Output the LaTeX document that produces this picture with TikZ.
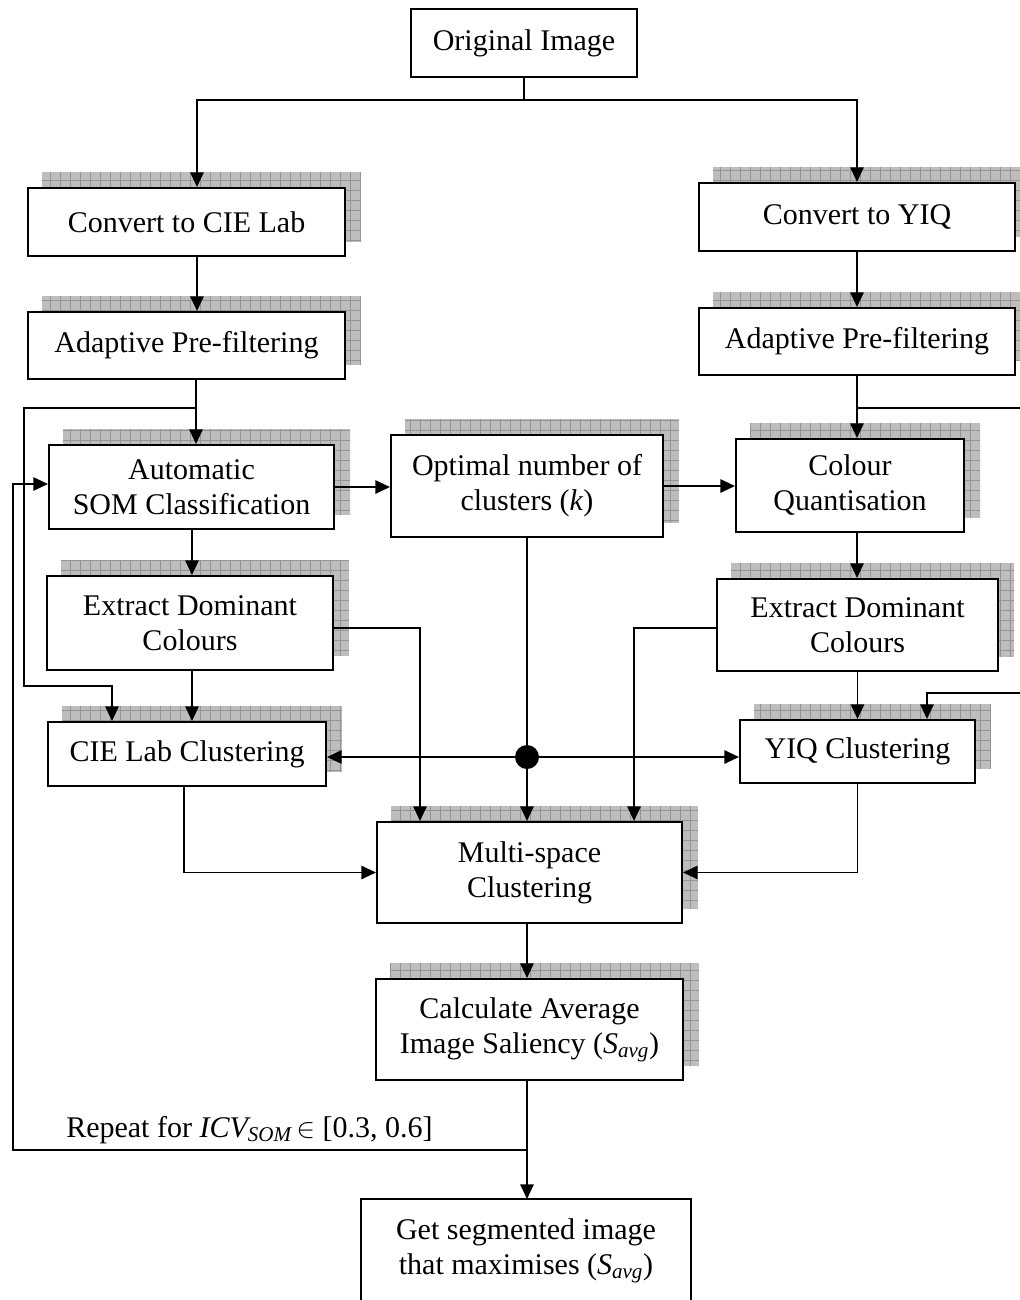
\documentclass[tikz,border=0pt]{standalone}
\usepackage{fontspec}
\setmainfont{Liberation Serif}
\usetikzlibrary{arrows.meta,backgrounds}
\newcommand\boxshadow[1]{%
  \begin{scope}
    \clip ([shift={(15,-15)}]#1.south west) rectangle ([shift={(15,-15)}]#1.north east);
    \fill[shfill] ([shift={(15,-15)}]#1.south west) rectangle ([shift={(15,-15)}]#1.north east);
    \draw[shgrid, step=7.5pt] ([shift={(15,-15)}]#1.south west) grid ([shift={(15,-15)}]#1.north east);
  \end{scope}}
\begin{document}
\begin{tikzpicture}[x=0.75pt,y=-0.75pt,
  box/.style={draw, line width=1.5pt, fill=white, inner sep=0pt, align=center,
    font=\fontsize{22.5}{26.25}\selectfont},
  frame/.style={line width=1.5pt},
  conn/.style={line width=1.4pt},
  arr/.style={conn, -{Triangle[length=11pt,width=10pt]}},
  shfill/.style={fill=black!26},
  shgrid/.style={draw=black!42, line width=0.5pt},
  lbl/.style={inner sep=0pt, font=\fontsize{22.5}{26.25}\selectfont}
]
\useasboundingbox (0,0) rectangle (1020,1300);

% boxes
\node[box, minimum width=169.5pt, minimum height=51pt] (orig) at (524,43) {Original Image};
\node[box, minimum width=237.75pt, minimum height=51pt] (cielab) at (186.5,222) {Convert to CIE Lab};
\node[box, minimum width=237pt, minimum height=51pt] (yiq) at (857,217) {Convert to YIQ};
\node[box, minimum width=237.75pt, minimum height=50.25pt] (apfL) at (186.5,345.5) {Adaptive Pre-filtering};
\node[box, minimum width=237pt, minimum height=50.25pt] (apfR) at (857,341.5) {Adaptive Pre-filtering};
\node[box, minimum width=213.75pt, minimum height=63pt] (som) at (191.5,487) {Automatic\\SOM Classification};
\node[box, minimum width=204pt, minimum height=76.5pt] (opt) at (527,486) {Optimal number of\\clusters (\textit{k})};
\node[box, minimum width=171pt, minimum height=69.75pt] (cq) at (850,485.5) {Colour\\Quantisation};
\node[box, minimum width=214.5pt, minimum height=70.5pt] (edL) at (190,623) {Extract Dominant\\Colours};
\node[box, minimum width=210.75pt, minimum height=69pt] (edR) at (857.5,625) {Extract Dominant\\Colours};
\node[box, minimum width=208.5pt, minimum height=48pt] (labc) at (187,754) {CIE Lab Clustering};
\node[box, minimum width=176.25pt, minimum height=47.25pt] (yiqc) at (857.5,751.5) {YIQ Clustering};
\node[box, minimum width=228.75pt, minimum height=75.75pt] (multi) at (529.5,872.5) {Multi-space\\Clustering};
\node[box, minimum width=230.25pt, minimum height=75.75pt] (calc) at (529.5,1029.5) {Calculate Average\\Image Saliency (\textit{S\textsubscript{avg}})};
\node[box, draw=none, fill=none, minimum width=246pt, minimum height=75.75pt] (final) at (526,1250.5) {Get segmented image\\that maximises (\textit{S\textsubscript{avg}})};
\draw[frame] ([yshift=-40pt]final.south west) -- (final.north west) -- (final.north east) -- ([yshift=-40pt]final.south east);

\node[circle, fill, inner sep=0pt, minimum size=18pt] (dot) at (527,757) {};

\node[lbl, anchor=base west] (rep) at (66,1137) {Repeat for \textit{ICV\textsubscript{SOM}}\,$\in$ [0.3, 0.6]};

% shadows
\begin{scope}[on background layer]
  \boxshadow{cielab}\boxshadow{yiq}\boxshadow{apfL}\boxshadow{apfR}
  \boxshadow{som}\boxshadow{opt}\boxshadow{cq}\boxshadow{edL}\boxshadow{edR}
  \boxshadow{labc}\boxshadow{yiqc}\boxshadow{multi}\boxshadow{calc}
\end{scope}

% helper coordinates
\coordinate (sp) at (524,100);
\coordinate (xa) at (197,0);
\coordinate (jl) at (196,408);
\coordinate (xb) at (112,0);
\coordinate (xc) at (192,0);
\coordinate (xd) at (420,0);
\coordinate (xe) at (634,0);
\coordinate (xf) at (184,0);
\coordinate (yE) at (0,628);
\coordinate (jr) at (857,408);
\coordinate (offA) at (1030,408);
\coordinate (offB) at (1030,693);
\coordinate (xg) at (927,0);
\coordinate (xm) at (527,0);
\coordinate (jb) at (527,1150);
\coordinate (xs) at (13,0);
\coordinate (yS) at (0,484);

% connectors
\draw[conn] (orig.south) -- (sp);
\draw[arr] (sp) -| (xa |- cielab.north);
\draw[arr] (sp) -| (yiq.north);
\draw[arr] (xa |- cielab.south) -- (xa |- apfL.north);
\draw[arr] (yiq.south) -- (apfR.north);

\draw[arr] (jl |- apfL.south) -- (jl |- som.north);
\draw[arr] (jl) -| (24,686) -| (xb |- labc.north);
\draw[arr] (xc |- som.south) -- (xc |- edL.north);
\draw[arr] (xc |- edL.south) -- (xc |- labc.north);

\draw[arr] (som.east) -- (som.east -| opt.west);
\draw[arr] (opt.east) -- (opt.east -| cq.west);

\draw[conn] (opt.south) -- (dot);
\draw[arr] (dot) -- (dot -| labc.east);
\draw[arr] (dot) -- (dot -| yiqc.west);
\draw[arr] (dot) -- (dot |- multi.north);

\draw[arr] (edL.east |- yE) -| (xd |- multi.north);
\draw[arr] (edR.west |- yE) -| (xe |- multi.north);
\draw[arr] (xf |- labc.south) |- (multi.west);
\draw[arr] (yiqc.south) |- (multi.east);

\draw[arr] (apfR.south) -- (apfR.south |- cq.north);
\draw[conn] (jr) -- (offA);
\draw[arr] (jr |- cq.south) -- (jr |- edR.north);
\draw[arr] (edR.south) -- (yiqc.north);
\draw[arr] (offB) -| (xg |- yiqc.north);

\draw[arr] (xm |- multi.south) -- (xm |- calc.north);
\draw[arr] (xm |- calc.south) -- (xm |- final.north);
\draw[arr] (jb) -| (xs |- yS) -- (som.west |- yS);
\end{tikzpicture}
\end{document}
